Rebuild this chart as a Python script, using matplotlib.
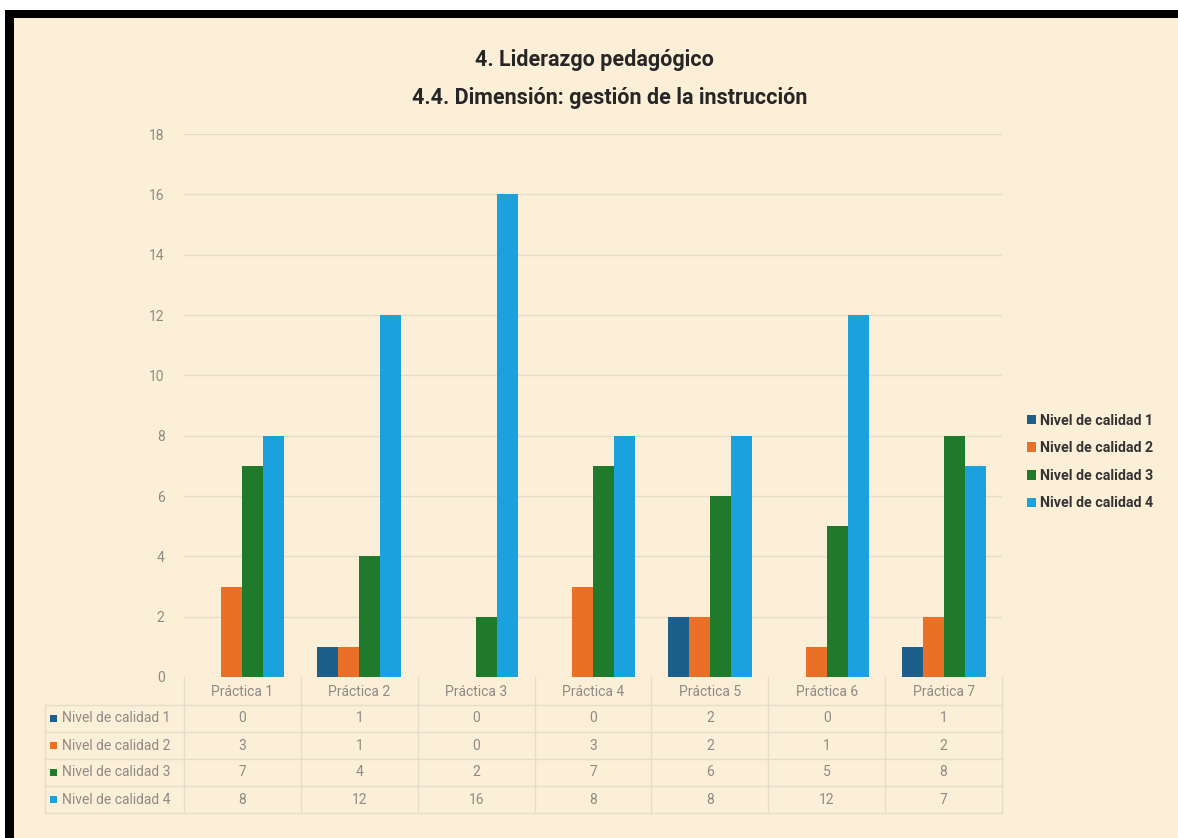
import numpy as np
import matplotlib
matplotlib.use("Agg")
import matplotlib.pyplot as plt
from matplotlib.patches import Rectangle
from matplotlib.transforms import blended_transform_factory

# Datos
practicas = ["Práctica 1", "Práctica 2", "Práctica 3", "Práctica 4",
             "Práctica 5", "Práctica 6", "Práctica 7"]
niveles = ["Nivel de calidad 1", "Nivel de calidad 2",
           "Nivel de calidad 3", "Nivel de calidad 4"]
nivel_1 = [0, 1, 0, 0, 2, 0, 1]
nivel_2 = [3, 1, 0, 3, 2, 1, 2]
nivel_3 = [7, 4, 2, 7, 6, 5, 8]
nivel_4 = [8, 12, 16, 8, 8, 12, 7]
y_ticks = [0, 2, 4, 6, 8, 10, 12, 14, 16, 18]

series = [nivel_1, nivel_2, nivel_3, nivel_4]
colores = ["#1d5f8a", "#ea7028", "#1f7a2c", "#1ba1dd"]

fondo = "#fcefd8"
gris = "#8f8a84"
lineas = "#e6dcca"
fuente = ["Roboto", "DejaVu Sans"]
plt.rcParams["font.family"] = fuente

W, H = 1178, 838
fig = plt.figure(figsize=(W / 100, H / 100), dpi=100, facecolor="white")

# fondo tipo pergamino y marco negro (arriba e izquierda)
fig.patches.append(Rectangle((14 / W, 0), 1, 1 - 18 / H, transform=fig.transFigure,
                             facecolor=fondo, edgecolor="none", zorder=-10))
fig.patches.append(Rectangle((5 / W, 1 - 18 / H), 1, 8 / H, transform=fig.transFigure,
                             facecolor="black", edgecolor="none", zorder=-9))
fig.patches.append(Rectangle((5 / W, 0), 9 / W, 1 - 10 / H, transform=fig.transFigure,
                             facecolor="black", edgecolor="none", zorder=-9))

ax = fig.add_axes([184 / W, 1 - 677 / H, 818 / W, 543 / H])
ax.set_facecolor("none")

x = np.arange(len(practicas))
ancho = 0.18
barras = []
for i, (vals, col) in enumerate(zip(series, colores)):
    b = ax.bar(x + (i - 1.5) * ancho, vals, width=ancho, color=col, zorder=3,
               label=niveles[i])
    barras.append(b)

ax.set_xlim(-0.5, len(practicas) - 0.5)
ax.set_ylim(0, 18)
ax.set_yticks(y_ticks)
ax.set_yticklabels([str(t) for t in y_ticks])
ax.yaxis.grid(True, color=lineas, linewidth=1, zorder=0)
ax.set_xticks(x)
ax.set_xticklabels(practicas)
ax.tick_params(axis="both", length=0, colors=gris, labelsize=10)
ax.tick_params(axis="y", pad=14)
ax.tick_params(axis="x", pad=6)
for s in ax.spines.values():
    s.set_visible(False)

# tabla de datos debajo del gráfico
tr = blended_transform_factory(ax.transData, ax.transAxes)
tra = ax.transAxes
alto = 543.0
fila_h = 27 / alto
top_tabla = -(705 - 677) / alto
x_izq = (45 - 184) / 818

for k in range(len(series) + 1):
    yy = top_tabla - k * fila_h
    ax.plot([x_izq, 1], [yy, yy], transform=tra, color=lineas, lw=1, clip_on=False)
fondo_tabla = top_tabla - len(series) * fila_h
ax.plot([x_izq, x_izq], [top_tabla, fondo_tabla], transform=tra, color=lineas,
        lw=1, clip_on=False)
for b in np.arange(len(practicas) + 1) - 0.5:
    ax.plot([b, b], [0, fondo_tabla], transform=tr, color=lineas, lw=1, clip_on=False)

for r, (vals, col, nom) in enumerate(zip(series, colores, niveles)):
    yc = top_tabla - (r + 0.5) * fila_h
    ax.add_patch(Rectangle(((50 - 184) / 818, yc - 3.5 / alto), 7 / 818, 7 / alto,
                           transform=tra, facecolor=col, edgecolor="none", clip_on=False))
    ax.text((62 - 184) / 818, yc, nom, transform=tra, ha="left", va="center",
            fontsize=10, color=gris)
    for j, v in enumerate(vals):
        ax.text(x[j], yc, str(v), transform=tr, ha="center", va="center",
                fontsize=10, color=gris)

# leyenda a la derecha
fig.legend(handles=barras, labels=niveles, loc="center left",
           bbox_to_anchor=(1014 / W, 1 - 462 / H), frameon=False,
           handlelength=0.65, handleheight=0.65, handletextpad=0.3,
           labelspacing=0.95, prop={"weight": "bold", "size": 10.3, "family": fuente},
           labelcolor="#333333")

# títulos
fig.text(594 / W, 1 - 60 / H, "4. Liderazgo pedagógico", ha="center", va="center",
         fontsize=15.5, fontweight="bold", color="#262626")
fig.text(610 / W, 1 - 98 / H, "4.4. Dimensión: gestión de la instrucción",
         ha="center", va="center", fontsize=15.5, fontweight="bold", color="#262626")

fig.savefig("out.png", dpi=100, facecolor=fig.get_facecolor())
